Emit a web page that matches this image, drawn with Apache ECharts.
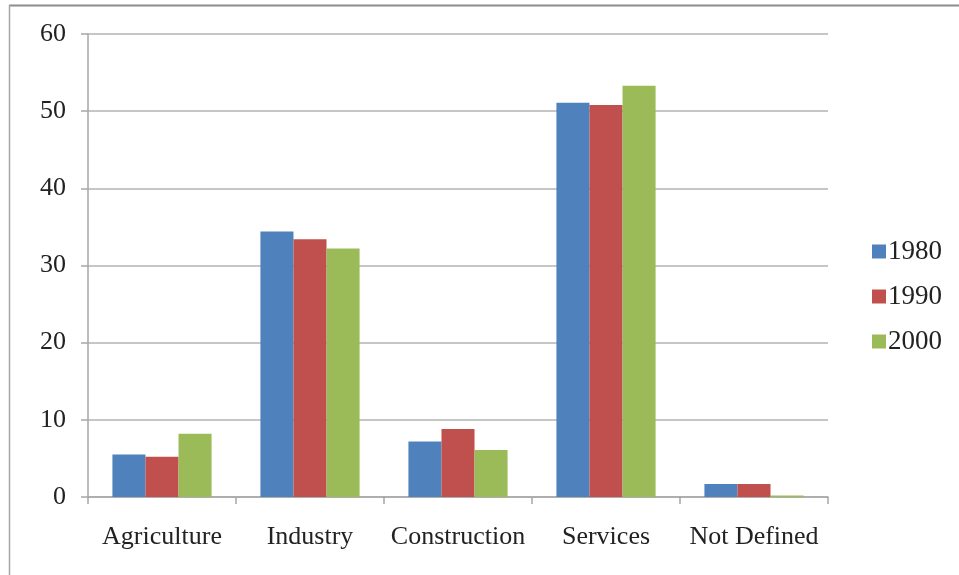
<!DOCTYPE html>
<html><head><meta charset="utf-8">
<script src="https://cdn.jsdelivr.net/npm/echarts@6/dist/echarts.min.js"></script>
<style>html,body{margin:0;padding:0;background:#fff}#c{width:959px;height:575px}</style>
</head><body><div id="c"></div>
<script>
const categories = ['Agriculture', 'Industry', 'Construction', 'Services', 'Not Defined'];
const s1980 = [5.5, 34.4, 7.2, 51.1, 1.7];
const s1990 = [5.2, 33.4, 8.8, 50.8, 1.7];
const s2000 = [8.2, 32.2, 6.1, 53.3, 0.2];
const seriesNames = ['1980', '1990', '2000'];
const colors = ['#4f81bd', '#c0504d', '#9bbb59'];

const chart = echarts.init(document.getElementById('c'), null, {renderer: 'canvas'});
const font = '"Liberation Serif", "Times New Roman", serif';
const mk = (name, data, i) => ({
  name, type: 'bar', data, barGap: '0%', barCategoryGap: '33%',
  itemStyle: {color: colors[i]}
});
chart.setOption({
  animation: false,
  backgroundColor: '#fff',
  textStyle: {fontFamily: font},
  grid: {left: 88, right: 131, top: 34, bottom: 78},
  legend: {
    orient: 'vertical', right: 12, top: 233, itemGap: 18,
    itemWidth: 14, itemHeight: 14, icon: 'rect',
    textStyle: {fontFamily: font, fontSize: 27, color: '#222', padding: [0,0,0,-3]},
    data: seriesNames
  },
  xAxis: {
    type: 'category', data: categories,
    axisLine: {lineStyle: {color: '#a6a6a6', width: 1.5}},
    axisTick: {show: true, length: 7, lineStyle: {color: '#a6a6a6', width: 1.5}},
    axisLabel: {fontFamily: font, fontSize: 26, color: '#222', margin: 27, interval: 0, hideOverlap: false}
  },
  yAxis: {
    type: 'value', min: 0, max: 60, interval: 10,
    axisLine: {show: true, lineStyle: {color: '#a6a6a6', width: 1.5}},
    axisTick: {show: true, length: 7, lineStyle: {color: '#a6a6a6', width: 1.5}},
    splitLine: {lineStyle: {color: '#b3b3b3', width: 1.5}},
    axisLabel: {fontFamily: font, fontSize: 26, color: '#222', margin: 22}
  },
  graphic: [
    {type: 'line', shape: {x1: 9, y1: 5.5, x2: 959, y2: 5.5}, style: {stroke: '#8c8c8c', lineWidth: 2}},
    {type: 'line', shape: {x1: 9.5, y1: 5, x2: 9.5, y2: 575}, style: {stroke: '#a6a6a6', lineWidth: 1.5}}
  ],
  series: [mk('1980', s1980, 0), mk('1990', s1990, 1), mk('2000', s2000, 2)]
});
</script></body></html>
